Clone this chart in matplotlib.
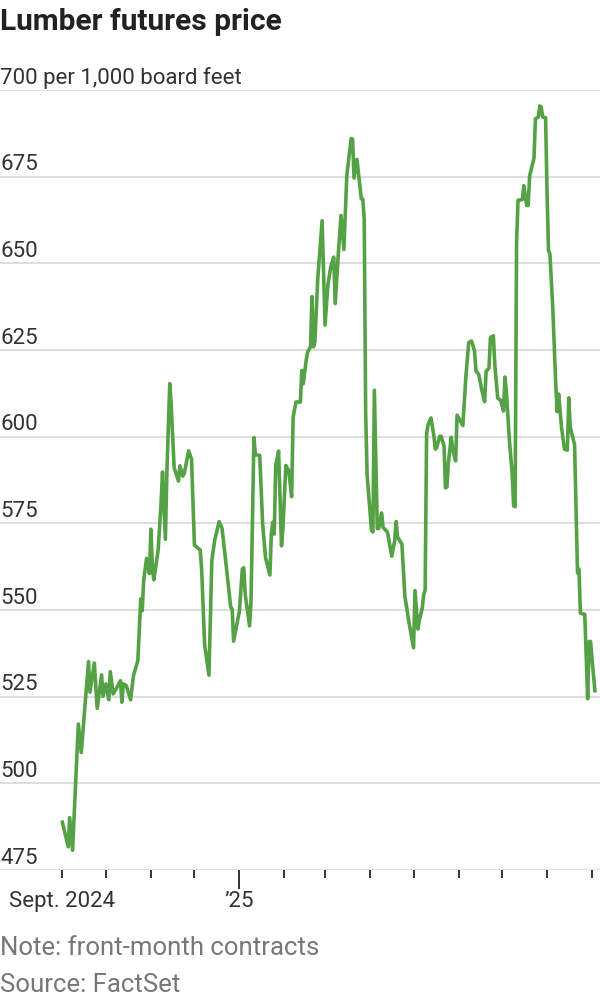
import matplotlib
matplotlib.use('Agg')
import matplotlib.pyplot as plt
import pandas as pd

# Front-month lumber futures (USD per 1,000 board feet)
dates = [
    '2024-09-01', '2024-09-05', '2024-09-06', '2024-09-08', '2024-09-12', '2024-09-14',
    '2024-09-19', '2024-09-20', '2024-09-23', '2024-09-25', '2024-09-28', '2024-09-29',
    '2024-10-01', '2024-10-03', '2024-10-04', '2024-10-06', '2024-10-08', '2024-10-11',
    '2024-10-12', '2024-10-13', '2024-10-15', '2024-10-18', '2024-10-20', '2024-10-23',
    '2024-10-25', '2024-10-26', '2024-10-27', '2024-10-29', '2024-10-31', '2024-11-01',
    '2024-11-02', '2024-11-03', '2024-11-06', '2024-11-08', '2024-11-09', '2024-11-11',
    '2024-11-12', '2024-11-14', '2024-11-15', '2024-11-17', '2024-11-20', '2024-11-21',
    '2024-11-23', '2024-11-24', '2024-11-27', '2024-11-29', '2024-12-01', '2024-12-05',
    '2024-12-06', '2024-12-08', '2024-12-11', '2024-12-13', '2024-12-15', '2024-12-18',
    '2024-12-20', '2024-12-23', '2024-12-26', '2024-12-27', '2024-12-28', '2025-01-01',
    '2025-01-03', '2025-01-04', '2025-01-05', '2025-01-08', '2025-01-09', '2025-01-11',
    '2025-01-12', '2025-01-15', '2025-01-17', '2025-01-19', '2025-01-22', '2025-01-23',
    '2025-01-24', '2025-01-25', '2025-01-26', '2025-01-28', '2025-01-30', '2025-01-31',
    '2025-02-02', '2025-02-04', '2025-02-06', '2025-02-07', '2025-02-09', '2025-02-12',
    '2025-02-13', '2025-02-14', '2025-02-16', '2025-02-17', '2025-02-19', '2025-02-20',
    '2025-02-21', '2025-02-22', '2025-02-24', '2025-02-27', '2025-03-01', '2025-03-03',
    '2025-03-05', '2025-03-07', '2025-03-08', '2025-03-10', '2025-03-12', '2025-03-14',
    '2025-03-16', '2025-03-19', '2025-03-20', '2025-03-21', '2025-03-23', '2025-03-26',
    '2025-03-27', '2025-03-28', '2025-03-29', '2025-03-30', '2025-04-02', '2025-04-03',
    '2025-04-04', '2025-04-06', '2025-04-07', '2025-04-09', '2025-04-10', '2025-04-13',
    '2025-04-16', '2025-04-18', '2025-04-19', '2025-04-20', '2025-04-23', '2025-04-25',
    '2025-04-28', '2025-05-01', '2025-05-02', '2025-05-04', '2025-05-05', '2025-05-07',
    '2025-05-08', '2025-05-09', '2025-05-10', '2025-05-11', '2025-05-13', '2025-05-15',
    '2025-05-16', '2025-05-17', '2025-05-19', '2025-05-20', '2025-05-22', '2025-05-23',
    '2025-05-24', '2025-05-25', '2025-05-27', '2025-05-28', '2025-05-30', '2025-05-31',
    '2025-06-02', '2025-06-04', '2025-06-06', '2025-06-08', '2025-06-10', '2025-06-12',
    '2025-06-13', '2025-06-15', '2025-06-17', '2025-06-19', '2025-06-20', '2025-06-22',
    '2025-06-23', '2025-06-25', '2025-06-26', '2025-06-28', '2025-06-30', '2025-07-02',
    '2025-07-03', '2025-07-04', '2025-07-06', '2025-07-08', '2025-07-09', '2025-07-10',
    '2025-07-11', '2025-07-12', '2025-07-15', '2025-07-16', '2025-07-18', '2025-07-19',
    '2025-07-20', '2025-07-23', '2025-07-24', '2025-07-26', '2025-07-27', '2025-07-28',
    '2025-07-29', '2025-07-31', '2025-08-01', '2025-08-02', '2025-08-03', '2025-08-05',
    '2025-08-07', '2025-08-08', '2025-08-09', '2025-08-11', '2025-08-13', '2025-08-15',
    '2025-08-16', '2025-08-17', '2025-08-19', '2025-08-20', '2025-08-22', '2025-08-23',
    '2025-08-24', '2025-08-26', '2025-08-27', '2025-08-29', '2025-08-30', '2025-08-31',
    '2025-09-01', '2025-09-03',
]
prices = [
    488.8, 481.7, 490.1, 480.7, 517.1, 508.9,
    535.1, 526.3, 534.7, 521.6, 531.3, 525.1,
    528.7, 524.1, 532.2, 525.8, 527.2, 529.6,
    523.4, 528.7, 528.2, 524.1, 531.1, 535.4,
    553.2, 549.8, 558.5, 564.9, 560.5, 573.3,
    562.4, 558.7, 567.3, 580.9, 589.8, 570.4,
    589.6, 615.3, 609.0, 591.1, 587.2, 591.6,
    588.6, 589.4, 595.9, 593.5, 568.7, 567.3,
    561.5, 540.1, 531.2, 564.4, 570.2, 575.5,
    573.6, 562.4, 550.8, 550.3, 541.0, 549.7,
    561.8, 562.2, 554.5, 545.4, 552.6, 599.7,
    594.8, 594.6, 574.8, 565.1, 560.1, 571.9,
    575.3, 571.9, 591.7, 595.8, 568.5, 573.8,
    591.7, 590.2, 582.7, 605.6, 610.0, 610.0,
    619.1, 615.3, 622.0, 624.4, 625.9, 640.4,
    625.9, 627.3, 645.7, 662.3, 632.2, 643.9,
    649.1, 651.8, 638.4, 651.8, 663.8, 654.0,
    675.3, 686.0, 685.8, 674.6, 680.0, 668.6,
    668.6, 662.8, 606.9, 589.0, 573.0, 572.5,
    613.4, 573.5, 573.5, 578.0, 573.8, 572.5,
    565.5, 570.0, 575.5, 571.0, 569.0, 554.0,
    546.1, 539.1, 555.6, 544.5, 547.1, 550.5,
    554.5, 555.7, 600.9, 603.4, 605.4, 600.3,
    596.4, 596.9, 600.1, 600.1, 597.4, 585.2,
    585.5, 592.5, 599.8, 596.4, 593.0, 606.2,
    604.7, 603.2, 616.9, 627.1, 627.6, 624.7,
    619.0, 617.9, 613.5, 610.1, 618.8, 619.8,
    628.6, 629.1, 620.8, 611.1, 610.5, 607.4,
    617.2, 612.9, 599.3, 589.1, 580.0, 579.8,
    656.0, 668.2, 668.4, 672.4, 666.7, 666.7,
    675.2, 680.3, 691.7, 692.2, 695.4, 695.1,
    692.2, 692.0, 670.7, 653.7, 652.6, 636.7,
    615.1, 607.2, 612.3, 602.6, 596.4, 596.1,
    611.2, 602.7, 599.3, 597.6, 560.7, 561.8,
    549.1, 548.8, 548.8, 524.4, 540.9, 540.9,
    535.8, 526.7,
]

y_ticks = [475, 500, 525, 550, 575, 600, 625, 650, 675, 700]
y_labels = ['475', '500', '525', '550', '575', '600', '625', '650', '675',
            '700 per 1,000 board feet']
month_ticks = pd.date_range('2024-09-01', '2025-09-01', freq='MS')
x_label_dates = ['2024-09-01', '2025-01-01']
x_labels = ['Sept. 2024', '\u201925']

title = 'Lumber futures price'
note = 'Note: front-month contracts'
source = 'Source: FactSet'

plt.rcParams['font.family'] = ['Roboto', 'DejaVu Sans']

fig = plt.figure(figsize=(6, 10), dpi=100)
ax = fig.add_axes([0, 0.13, 1, 0.78])

ax.plot(pd.to_datetime(dates), prices, color='#55a145', lw=2.6, zorder=3)

ax.set_ylim(475, 700)
ax.set_xlim(pd.Timestamp('2024-07-20'), pd.Timestamp('2025-09-06 12:00'))

for s in ax.spines.values():
    s.set_visible(False)

# horizontal gridlines, the lowest one doubles as the axis
ax.set_yticks(y_ticks)
ax.tick_params(axis='y', length=0, labelleft=False)
ax.grid(axis='y', color='#dedede', lw=1.5, zorder=0)

for v, lab in zip(y_ticks, y_labels):
    ax.annotate(lab, xy=(0, v), xycoords=('axes fraction', 'data'),
                xytext=(0, 4.5), textcoords='offset points',
                ha='left', va='baseline', fontsize=16, color='#333333')

# monthly ticks, long one at the new year
ax.set_xticks(month_ticks, minor=True)
ax.set_xticks(pd.to_datetime(x_label_dates))
ax.set_xticklabels(x_labels)
ax.tick_params(axis='x', which='both', length=6, width=1.4, color='#333333',
               pad=9, labelsize=16, labelcolor='#333333')
ax.xaxis.get_major_ticks()[1].tick1line.set_markersize(14)

fig.text(0, 0.970, title, fontsize=21.5, fontweight='bold', color='#222222',
         ha='left', va='baseline')
fig.text(0, 0.045, note, fontsize=18.5, color='#777777', ha='left', va='baseline')
fig.text(0, 0.008, source, fontsize=18.5, color='#777777', ha='left', va='baseline')

fig.savefig('out.png', dpi=100)
